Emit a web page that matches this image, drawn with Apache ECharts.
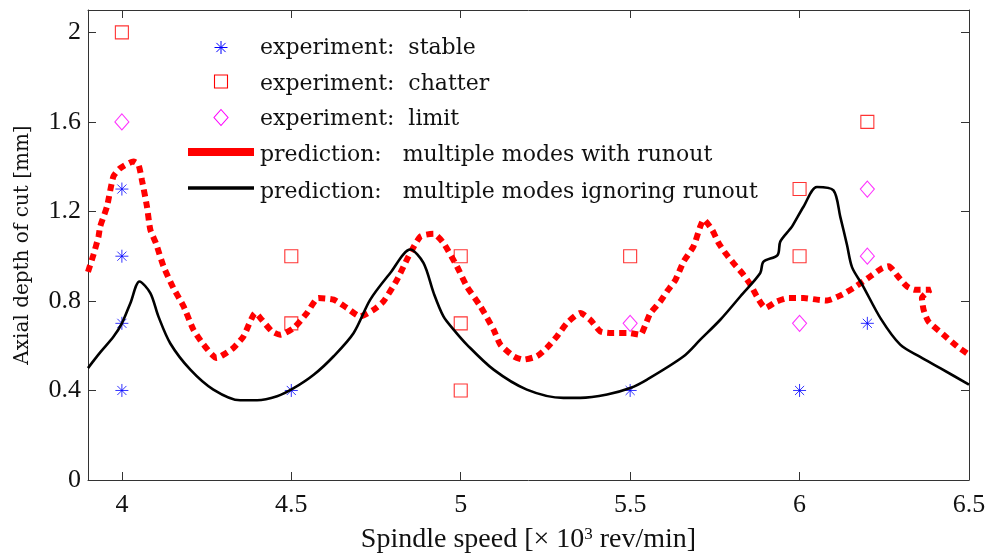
<!DOCTYPE html>
<html>
<head>
<meta charset="utf-8">
<script src="https://cdn.jsdelivr.net/npm/echarts@6/dist/echarts.min.js"></script>
<style>
  html, body { margin: 0; padding: 0; background: #fff; }
  #chart { width: 990px; height: 559px; }
</style>
</head>
<body>
<div id="chart"></div>
<script>
// Spindle speed (x10^3 rev/min) vs axial depth of cut (mm)
const xTicks = [4, 4.5, 5, 5.5, 6, 6.5];
const yTicks = [0, 0.4, 0.8, 1.2, 1.6, 2];

// Cutting tests
const stablePts = [[4, 1.3], [4, 1.0], [4, 0.7], [4, 0.4], [4.5, 0.4], [5.5, 0.4], [6, 0.4], [6.2, 0.7]];
const chatterPts = [[4, 2.0], [4.5, 1.0], [4.5, 0.7], [5, 1.0], [5, 0.7], [5, 0.4], [5.5, 1.0], [6, 1.3], [6, 1.0], [6.2, 1.6]];
const limitPts = [[4, 1.6], [5.5, 0.7], [6, 0.7], [6.2, 1.3], [6.2, 1.0]];

// Predicted stability boundary including runout
const withRunout = [
  [3.90, 0.93], [3.916, 1.006], [3.931, 1.088], [3.936, 1.133], [3.956, 1.222], [3.975, 1.356],
  [3.995, 1.393], [4.034, 1.423], [4.049, 1.408], [4.059, 1.341], [4.074, 1.222], [4.084, 1.118],
  [4.10, 1.06], [4.123, 0.954], [4.152, 0.858], [4.182, 0.776], [4.211, 0.672], [4.241, 0.605],
  [4.28, 0.545], [4.30, 0.56], [4.329, 0.59], [4.359, 0.642], [4.394, 0.746], [4.413, 0.716],
  [4.443, 0.664], [4.467, 0.649], [4.507, 0.679], [4.546, 0.746], [4.58, 0.813], [4.625, 0.806],
  [4.664, 0.769], [4.703, 0.731], [4.743, 0.761], [4.772, 0.798], [4.812, 0.895], [4.846, 0.999],
  [4.881, 1.088], [4.92, 1.10], [4.949, 1.059], [4.989, 0.954], [5.018, 0.865], [5.058, 0.776],
  [5.097, 0.672], [5.117, 0.605], [5.156, 0.553], [5.185, 0.538], [5.225, 0.553], [5.254, 0.59],
  [5.284, 0.642], [5.314, 0.702], [5.353, 0.746], [5.382, 0.716], [5.412, 0.664], [5.44, 0.657],
  [5.496, 0.657], [5.53, 0.649], [5.545, 0.694], [5.56, 0.746], [5.589, 0.798], [5.609, 0.843],
  [5.634, 0.895], [5.658, 0.977], [5.687, 1.044], [5.707, 1.133], [5.717, 1.163], [5.742, 1.118],
  [5.761, 1.059], [5.781, 1.014], [5.805, 0.969], [5.83, 0.925], [5.855, 0.873], [5.874, 0.82],
  [5.899, 0.769], [5.933, 0.798], [5.968, 0.813], [6.012, 0.813], [6.051, 0.806], [6.081, 0.802],
  [6.125, 0.828], [6.159, 0.858], [6.20, 0.90], [6.244, 0.947], [6.263, 0.955], [6.29, 0.91],
  [6.317, 0.865], [6.34, 0.85], [6.386, 0.85], [6.361, 0.813], [6.366, 0.761], [6.38, 0.709],
  [6.425, 0.649], [6.465, 0.597], [6.5, 0.56]
];

// Predicted stability boundary ignoring runout
const ignoringRunout = [
  [3.90, 0.50], [3.936, 0.57], [3.975, 0.64], [4.0, 0.70], [4.025, 0.79], [4.052, 0.887],
  [4.084, 0.835], [4.108, 0.73], [4.143, 0.61], [4.202, 0.493], [4.27, 0.404], [4.349, 0.356],
  [4.399, 0.356], [4.458, 0.374], [4.507, 0.41], [4.566, 0.47], [4.625, 0.553], [4.684, 0.657],
  [4.733, 0.806], [4.792, 0.925], [4.851, 1.03], [4.89, 0.97], [4.92, 0.836], [4.949, 0.731],
  [4.979, 0.672], [5.018, 0.605], [5.097, 0.493], [5.195, 0.404], [5.303, 0.367], [5.353, 0.367],
  [5.432, 0.382], [5.50, 0.411], [5.55, 0.449], [5.658, 0.553], [5.707, 0.627], [5.766, 0.716],
  [5.825, 0.82], [5.884, 0.925], [5.893, 0.975], [5.935, 1.005], [5.943, 1.065], [5.97, 1.118],
  [5.978, 1.133], [6.012, 1.222], [6.051, 1.309], [6.10, 1.294], [6.12, 1.177], [6.14, 1.05],
  [6.155, 0.95], [6.186, 0.87], [6.24, 0.72], [6.297, 0.605], [6.356, 0.55], [6.415, 0.50],
  [6.5, 0.426]
];

const asteriskPath = 'path://M0,-10L0,10M-10,0L10,0M-7,-7L7,7M-7,7L7,-7';

const axisColor = '#333';
const tickFont = { fontFamily: '"Liberation Serif"', fontSize: 26, color: '#111' };

const chart = echarts.init(document.getElementById('chart'), null, { renderer: 'canvas' });

function boxAxis(extra) {
  return Object.assign({
    type: 'value',
    axisLine: { show: true, onZero: false, lineStyle: { color: axisColor, width: 1 } },
    axisTick: { show: true, inside: true, length: 8, lineStyle: { color: axisColor } },
    splitLine: { show: false }
  }, extra);
}

// legend drawn as graphic items
const legendX = 260;
const legendFont = '22px "DejaVu Serif"';
const legendRows = [
  'experiment:  stable',
  'experiment:  chatter',
  'experiment:  limit',
  'prediction:   multiple modes with runout',
  'prediction:   multiple modes ignoring runout'
];
const rowY = [48, 84, 119, 155, 192];

function seg(x1, y1, x2, y2, color, w) {
  return { type: 'line', shape: { x1, y1, x2, y2 }, style: { stroke: color, lineWidth: w } };
}

const ax = 221, ay = 47.5;
const legendGraphics = [
  seg(ax, ay - 6.5, ax, ay + 6.5, '#0000ff', 1),
  seg(ax - 6.5, ay, ax + 6.5, ay, '#0000ff', 1),
  seg(ax - 4.6, ay - 4.6, ax + 4.6, ay + 4.6, '#0000ff', 1),
  seg(ax - 4.6, ay + 4.6, ax + 4.6, ay - 4.6, '#0000ff', 1),
  {
    type: 'rect', shape: { x: 214.5, y: 75, width: 13, height: 13 },
    style: { stroke: '#ff0000', fill: 'rgba(0,0,0,0)', lineWidth: 1.1 }
  },
  {
    type: 'polygon', shape: { points: [[221, 109.5], [228, 117.5], [221, 125.5], [214, 117.5]] },
    style: { stroke: '#ff00ff', fill: 'rgba(0,0,0,0)', lineWidth: 1.1 }
  },
  seg(188, 152, 254, 152, '#ff0000', 8),
  seg(188, 188, 254, 188, '#000000', 3.5)
].concat(legendRows.map((t, i) => ({
  type: 'text', x: legendX, y: rowY[i],
  style: { text: t, font: legendFont, fill: '#111', verticalAlign: 'middle', align: 'left' }
})));

const option = {
  backgroundColor: '#fff',
  animation: false,
  grid: { left: 88, right: 21, top: 10, bottom: 78.5, containLabel: false },
  xAxis: [
    boxAxis({
      position: 'bottom', min: 3.9, max: 6.5,
      axisTick: { show: true, inside: true, length: 8, lineStyle: { color: axisColor }, customValues: xTicks },
      axisLabel: Object.assign({ margin: 12, customValues: xTicks, formatter: v => String(v) }, tickFont),
      name: 'Spindle speed [× 10{sup|3} rev/min]',
      nameLocation: 'middle', nameGap: 46,
      nameTextStyle: {
        fontFamily: '"Liberation Serif"', fontSize: 28, color: '#111',
        rich: { sup: { fontFamily: '"Liberation Serif"', fontSize: 17, color: '#111', verticalAlign: 'top', padding: [0, 0, 10, 0] } }
      }
    }),
    boxAxis({
      position: 'top', min: 3.9, max: 6.5,
      axisTick: { show: true, inside: true, length: 8, lineStyle: { color: axisColor }, customValues: xTicks },
      axisLabel: { show: false }
    })
  ],
  yAxis: [
    boxAxis({
      position: 'left', min: 0, max: 2.1,
      axisTick: { show: true, inside: true, length: 8, lineStyle: { color: axisColor }, customValues: yTicks },
      axisLabel: Object.assign({ margin: 7, customValues: yTicks, formatter: v => String(v) }, tickFont),
      name: 'Axial depth of cut [mm]',
      nameLocation: 'middle', nameGap: 55,
      nameTextStyle: { fontFamily: '"DejaVu Serif"', fontSize: 20, color: '#111' }
    }),
    boxAxis({
      position: 'right', min: 0, max: 2.1,
      axisTick: { show: true, inside: true, length: 8, lineStyle: { color: axisColor }, customValues: yTicks },
      axisLabel: { show: false }
    })
  ],
  graphic: legendGraphics,
  series: [
    {
      name: 'experiment: stable', type: 'scatter', data: stablePts,
      symbol: asteriskPath, symbolSize: 13,
      itemStyle: { color: 'rgba(0,0,0,0)', borderColor: '#0000ff', borderWidth: 1 },
      z: 3
    },
    {
      name: 'experiment: chatter', type: 'scatter', data: chatterPts,
      symbol: 'rect', symbolSize: 13,
      itemStyle: { color: 'rgba(0,0,0,0)', borderColor: '#ff0000', borderWidth: 1.1 },
      z: 3
    },
    {
      name: 'experiment: limit', type: 'scatter', data: limitPts,
      symbol: 'diamond', symbolSize: [14, 16],
      itemStyle: { color: 'rgba(0,0,0,0)', borderColor: '#ff00ff', borderWidth: 1.1 },
      z: 3
    },
    {
      name: 'prediction: multiple modes with runout', type: 'line', data: withRunout,
      showSymbol: false, symbol: 'none', smooth: 0.2,
      lineStyle: { color: '#ff0000', width: 6, type: [7, 5], cap: 'butt' },
      z: 4
    },
    {
      name: 'prediction: multiple modes ignoring runout', type: 'line', data: ignoringRunout,
      showSymbol: false, symbol: 'none', smooth: 0.3,
      lineStyle: { color: '#000000', width: 2.6 },
      z: 5
    }
  ]
};

chart.setOption(option);
</script>
</body>
</html>
